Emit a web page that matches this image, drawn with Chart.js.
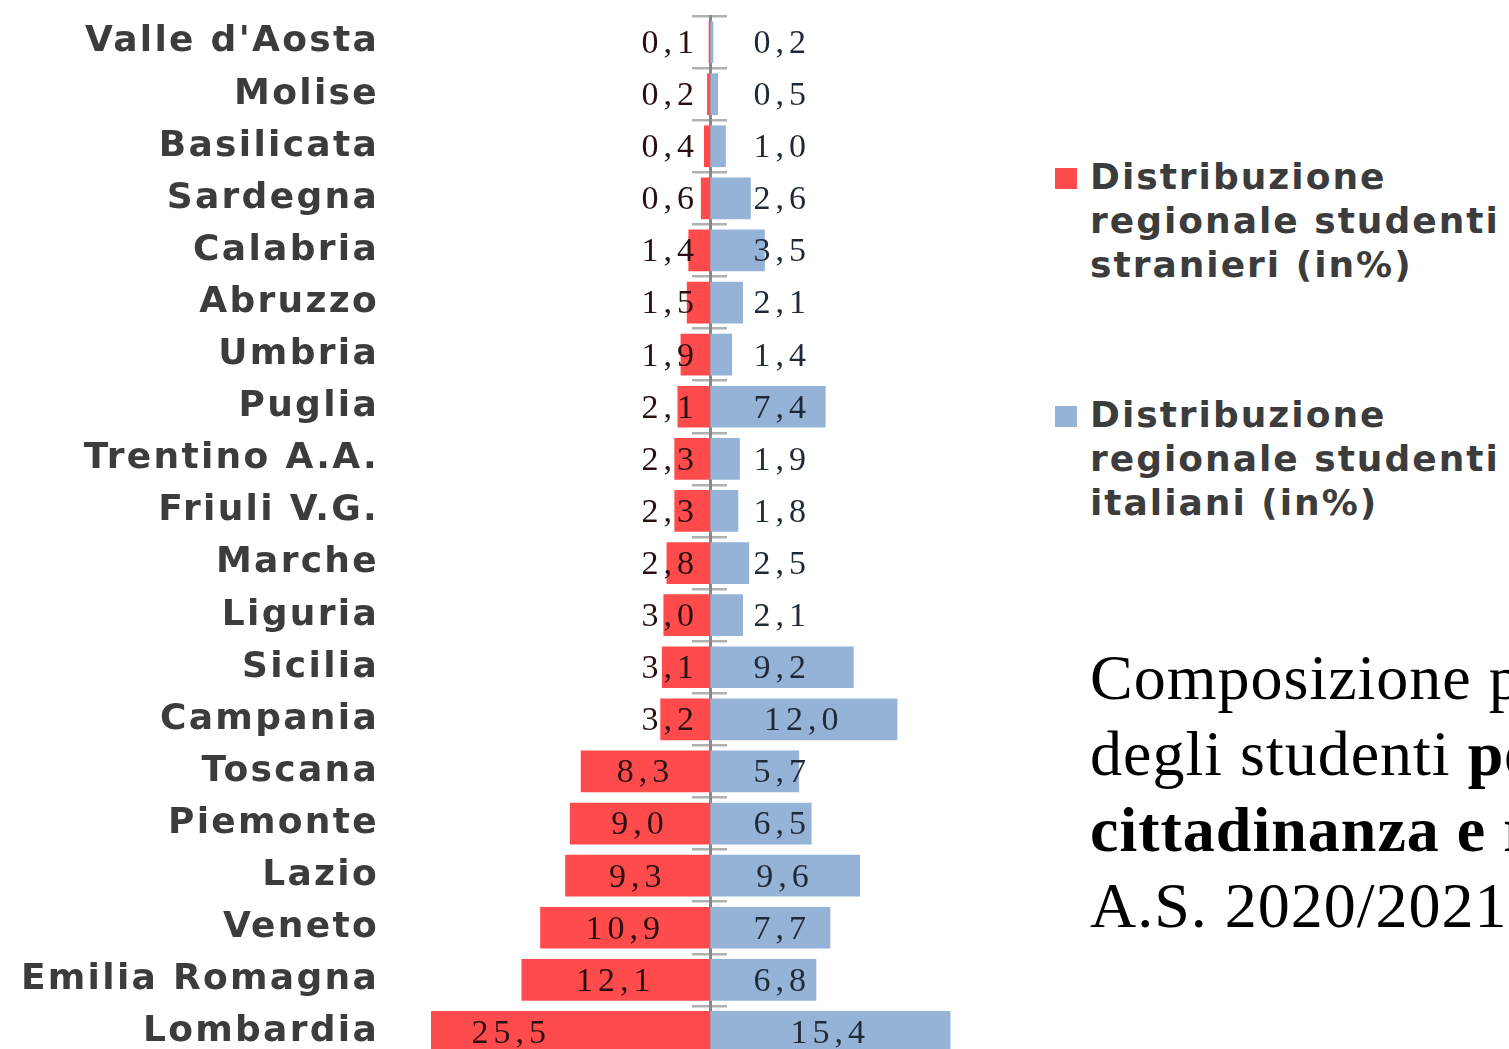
<!DOCTYPE html>
<html><head><meta charset="utf-8">
<script src="https://cdn.jsdelivr.net/npm/chart.js@4.4.0/dist/chart.umd.min.js"></script>
<style>
html,body{margin:0;padding:0;width:1509px;height:1049px;overflow:hidden;background:#fff;}
#c{position:absolute;left:0;top:0;}
.legend{position:absolute;left:1055px;font-family:"DejaVu Sans";font-weight:bold;font-size:36px;letter-spacing:2px;line-height:44px;color:#3c3c3c;white-space:nowrap;}
.legend .sw{position:absolute;left:0;top:13px;width:22px;height:21px;}
.legend .tx{position:absolute;left:35px;top:0;}
.title{position:absolute;left:1090px;top:640px;font-family:"Liberation Serif";font-size:64px;line-height:76px;letter-spacing:1px;color:#000;white-space:nowrap;}
</style>
</head>
<body>
<canvas id="c" width="1000" height="1062"></canvas>
<div class="legend" id="lg0" style="top:155px"><div class="sw" style="background:#FF4B4B"></div><div class="tx">Distribuzione<br>regionale studenti<br>stranieri (in%)</div></div>
<div class="legend" id="lg1" style="top:393px"><div class="sw" style="background:#95B3D7"></div><div class="tx">Distribuzione<br>regionale studenti<br>italiani (in%)</div></div>
<div class="title">Composizione percentuale<br>degli studenti <b>per</b><br><b>cittadinanza e regione</b><br>A.S. 2020/2021</div>
<script>
const categories = ["Valle d'Aosta","Molise","Basilicata","Sardegna","Calabria","Abruzzo","Umbria","Puglia","Trentino A.A.","Friuli V.G.","Marche","Liguria","Sicilia","Campania","Toscana","Piemonte","Lazio","Veneto","Emilia Romagna","Lombardia"];
const stranieri = [0.1,0.2,0.4,0.6,1.4,1.5,1.9,2.1,2.3,2.3,2.8,3.0,3.1,3.2,8.3,9.0,9.3,10.9,12.1,25.5];
const italiani = [0.2,0.5,1.0,2.6,3.5,2.1,1.4,7.4,1.9,1.8,2.5,2.1,9.2,12.0,5.7,6.5,9.6,7.7,6.8,15.4];
const seriesNames = ["Distribuzione regionale studenti stranieri (in%)","Distribuzione regionale studenti italiani (in%)"];
const xMin = -17.9;
const xMax = 18;

const fmt = v => v.toFixed(1).replace('.', ',');

const valueLabels = {
  id: 'valueLabels',
  beforeDraw(chart) { chart.ctx.letterSpacing = '2.3px'; },
  afterDatasetsDraw(chart) {
    const ctx = chart.ctx;
    ctx.save();
    ctx.letterSpacing = '5px';
    ctx.font = '34px "Liberation Serif"';
    ctx.textAlign = 'center';
    ctx.textBaseline = 'middle';
    chart.data.datasets.forEach((ds, di) => {
      const meta = chart.getDatasetMeta(di);
      const raw = di === 0 ? stranieri : italiani;
      meta.data.forEach((bar, i) => {
        const c = (bar.x + bar.base) / 2;
        const x = di === 0 ? Math.min(c, bar.base - 40) : Math.max(c, bar.base + 72);
        ctx.fillStyle = di === 0 ? '#2a1010' : '#1f2a38';
        ctx.fillText(fmt(raw[i]), x, bar.y + 2);
      });
    });
    ctx.restore();
  }
};

new Chart(document.getElementById('c'), {
  type: 'bar',
  data: {
    labels: categories,
    datasets: [
      { label: seriesNames[0], data: stranieri.map(v => -v), backgroundColor: '#FF4B4B', yAxisID: 'y', barPercentage: 0.8, categoryPercentage: 1 },
      { label: seriesNames[1], data: italiani, backgroundColor: '#95B3D7', yAxisID: 'y', barPercentage: 0.8, categoryPercentage: 1 }
    ]
  },
  options: {
    indexAxis: 'y',
    responsive: false,
    animation: false,
    layout: { padding: { left: 0, right: 9, top: 16, bottom: 4 } },
    plugins: { legend: { display: false }, tooltip: { enabled: false } },
    scales: {
      x: { type: 'linear', min: xMin, max: xMax, stacked: true, display: false },
      y: {
        type: 'category', stacked: true, position: 'left', offset: true,
        grid: { display: false }, border: { display: false },
        ticks: { font: { family: 'DejaVu Sans', size: 36, weight: 'bold' }, color: '#3c3c3c', padding: 44 },
        afterFit(s) { s.width = 431; s.paddingTop = 0; s.paddingBottom = 0; }
      },
      yL: {
        type: 'category', axis: 'y', position: { x: 0 }, offset: true, z: 1,
        ticks: { display: false },
        grid: { offset: true, drawOnChartArea: false, drawTicks: true, tickLength: 17, color: '#b0b0b0', lineWidth: 2.5 },
        border: { display: true, color: '#888888', width: 3 },
        afterFit(s) { s.paddingTop = 0; s.paddingBottom = 0; }
      },
      yR: {
        type: 'category', axis: 'y', position: { x: 0 }, offset: true, z: 1,
        ticks: { display: false },
        grid: { offset: true, drawOnChartArea: false, drawTicks: true, tickLength: -17, color: '#b0b0b0', lineWidth: 2.5 },
        border: { display: false },
        afterFit(s) { s.paddingTop = 0; s.paddingBottom = 0; }
      }
    }
  },
  plugins: [valueLabels]
});
</script>
</body></html>
